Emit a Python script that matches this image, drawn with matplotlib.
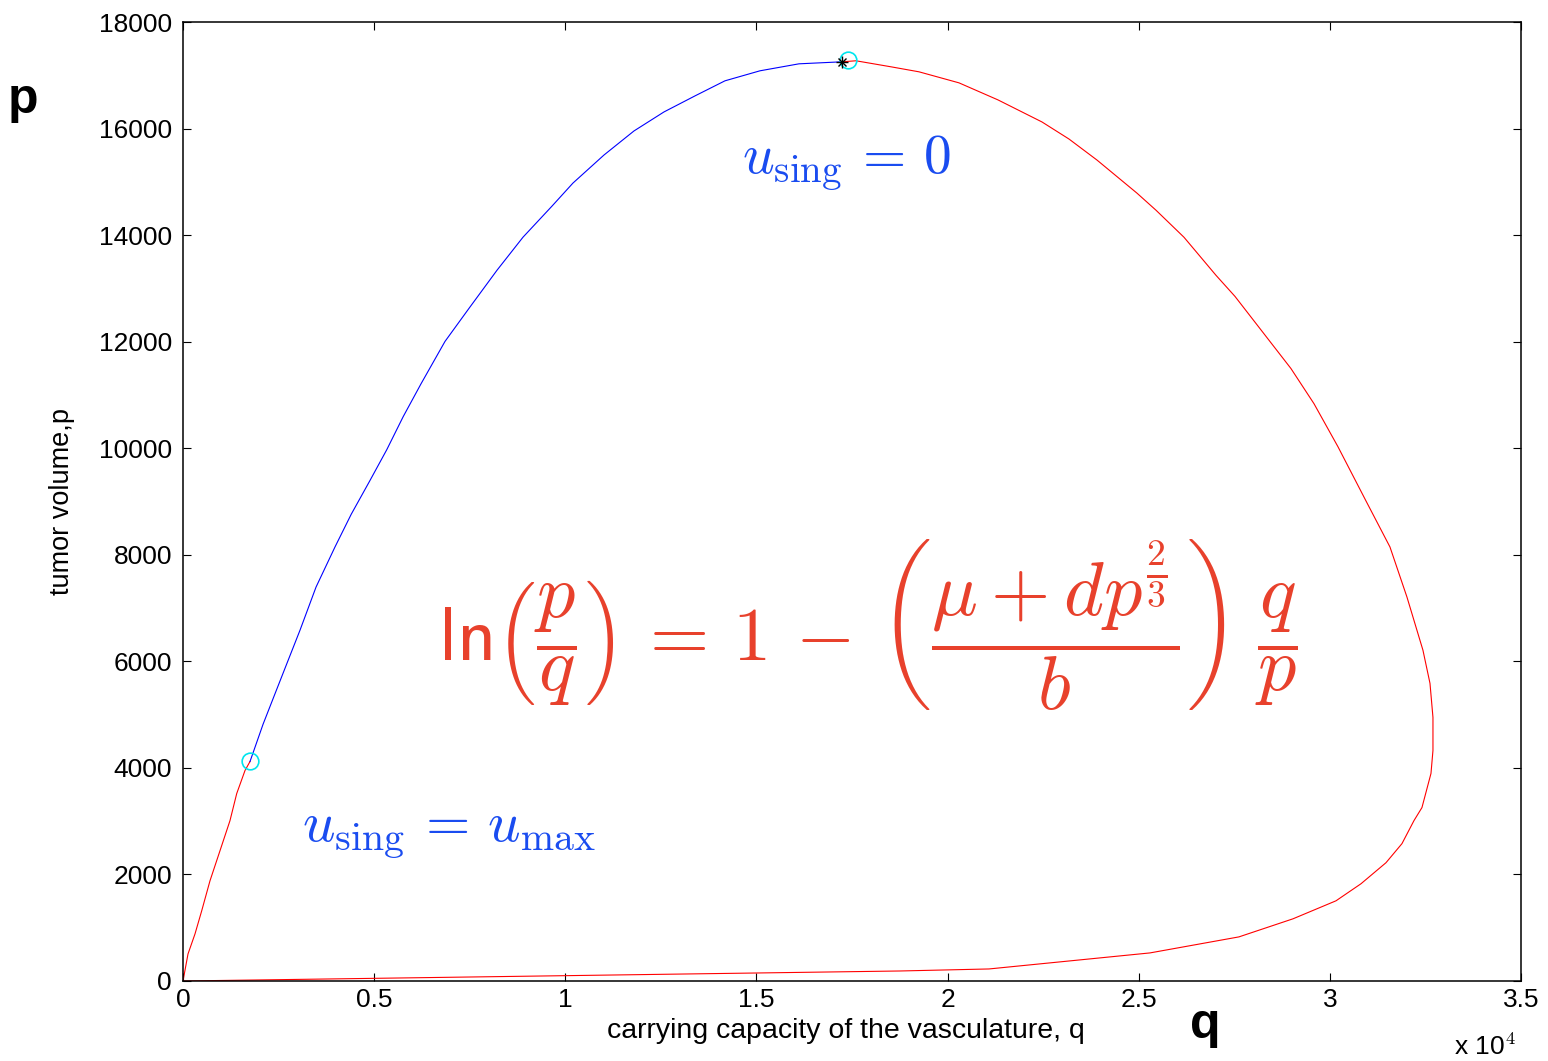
import numpy as np
import matplotlib.pyplot as plt

plt.rcParams['font.family'] = ['Liberation Sans', 'DejaVu Sans']
plt.rcParams['mathtext.fontset'] = 'cm'

# singular arc, u = 0 (blue)
blue_q = [1753, 2093, 2380, 2720, 3061, 3480, 3976, 4400, 4880, 5330, 5760, 6230, 6853,
          7481, 8213, 8894, 9652, 10201, 11012, 11797, 12582, 13393, 14177, 15093,
          16113, 17238]
blue_p = [4120, 4817, 5343, 5964, 6585, 7394, 8147, 8760, 9380, 9972, 10593, 11214, 12004,
          12625, 13340, 13961, 14544, 14977, 15503, 15955, 16312, 16613, 16896, 17084,
          17215, 17253]

# u = umax part from the origin to the switching point (red)
red_left_q = [0, 131, 314, 489, 706, 968, 1229, 1405, 1622, 1753]
red_left_p = [0, 508, 884, 1317, 1881, 2446, 3010, 3518, 3951, 4120]

# red trajectory from the top point round the right loop back to the origin
red_q = [17238, 17604, 18520, 19252, 20298, 21318, 22469, 23175, 23908, 24954, 25451,
         26184, 27021, 27518, 28250, 28982, 29584, 30212, 30944, 31572, 32017, 32435,
         32619, 32697, 32697, 32645, 32409, 32200, 31886, 31468, 30814, 30160, 29035,
         27622, 25294, 21083, 18755, 10000, 5000, 0]
red_p = [17253, 17272, 17159, 17065, 16858, 16538, 16124, 15804, 15409, 14788, 14468,
         13960, 13246, 12850, 12173, 11496, 10837, 10028, 9012, 8147, 7206, 6209,
         5588, 4948, 4327, 3895, 3255, 3010, 2578, 2220, 1825, 1505, 1167,
         828, 527, 226, 188, 100, 50, 0]

switch_q, switch_p = [1753, 17400], [4120, 17290]
star_q, star_p = [17238], [17253]

xticks = [0, 5000, 10000, 15000, 20000, 25000, 30000, 35000]
xticklabels = ['0', '0.5', '1', '1.5', '2', '2.5', '3', '3.5']
yticks = [0, 2000, 4000, 6000, 8000, 10000, 12000, 14000, 16000, 18000]

fig = plt.figure(figsize=(15.48, 10.61), dpi=100)
ax = fig.add_axes([183/1548, 1 - 981/1061, (1521-183)/1548, (981-22)/1061])

ax.plot(red_q, red_p, color='#FF0000', lw=0.8)
ax.plot(red_left_q, red_left_p, color='#FF0000', lw=0.8)
ax.plot(blue_q, blue_p, color='#0000FF', lw=0.8)
ax.plot(switch_q, switch_p, 'o', mfc='none', mec='#00E5EE', ms=12, mew=1.2)
ax.plot(star_q, star_p, '+', color='k', ms=8, mew=1)
ax.plot(star_q, star_p, 'x', color='k', ms=6, mew=1)

ax.set_xlim(0, 35000)
ax.set_ylim(0, 18000)
ax.set_xticks(xticks)
ax.set_xticklabels(xticklabels)
ax.set_yticks(yticks)
ax.tick_params(direction='in', top=True, right=True, labelsize=19, length=6, width=0.8)
ax.tick_params(axis='y', pad=8)
ax.tick_params(axis='x', pad=5)
for s in ax.spines.values():
    s.set_linewidth(1.1)

ax.set_xlabel('carrying capacity of the vasculature, q', fontsize=20.5)
ax.xaxis.set_label_coords(0.4955, -0.039)
ax.set_ylabel('tumor volume,p', fontsize=19.5)
ax.yaxis.set_label_coords(-0.081, 0.4995)

fig.text(1485/1548, 1 - 1047/1061, r'x 10$^{\mathsf{4}}$', fontsize=19, ha='center',
         va='center')
fig.text(23/1548, 1 - 100/1061, 'p', fontsize=36, weight='bold', ha='center', va='center')
fig.text(1205/1548, 1 - 1025/1061, 'q', fontsize=36, weight='bold', ha='center', va='center')

ax.text(17350, 15350, r'$u_{\rm sing}\, =\, 0$', color='#1A4CF0', fontsize=40,
        ha='center', va='center')
ax.text(6950, 2750, r'$u_{\rm sing}\, =\, u_{\max}$', color='#1A4CF0', fontsize=41,
        ha='center', va='center')
ax.text(17920, 6700,
        r'$\mathsf{ln}\left(\dfrac{p}{q}\right)\, =\, \mathsf{1}\, -\, '
        r'\left(\dfrac{\mu + dp^{\frac{\mathsf{2}}{\mathsf{3}}}}{b}\right)\; \dfrac{q}{p}$',
        color='#E8412C', fontsize=55, ha='center', va='center')

fig.savefig('out.png', dpi=100)
